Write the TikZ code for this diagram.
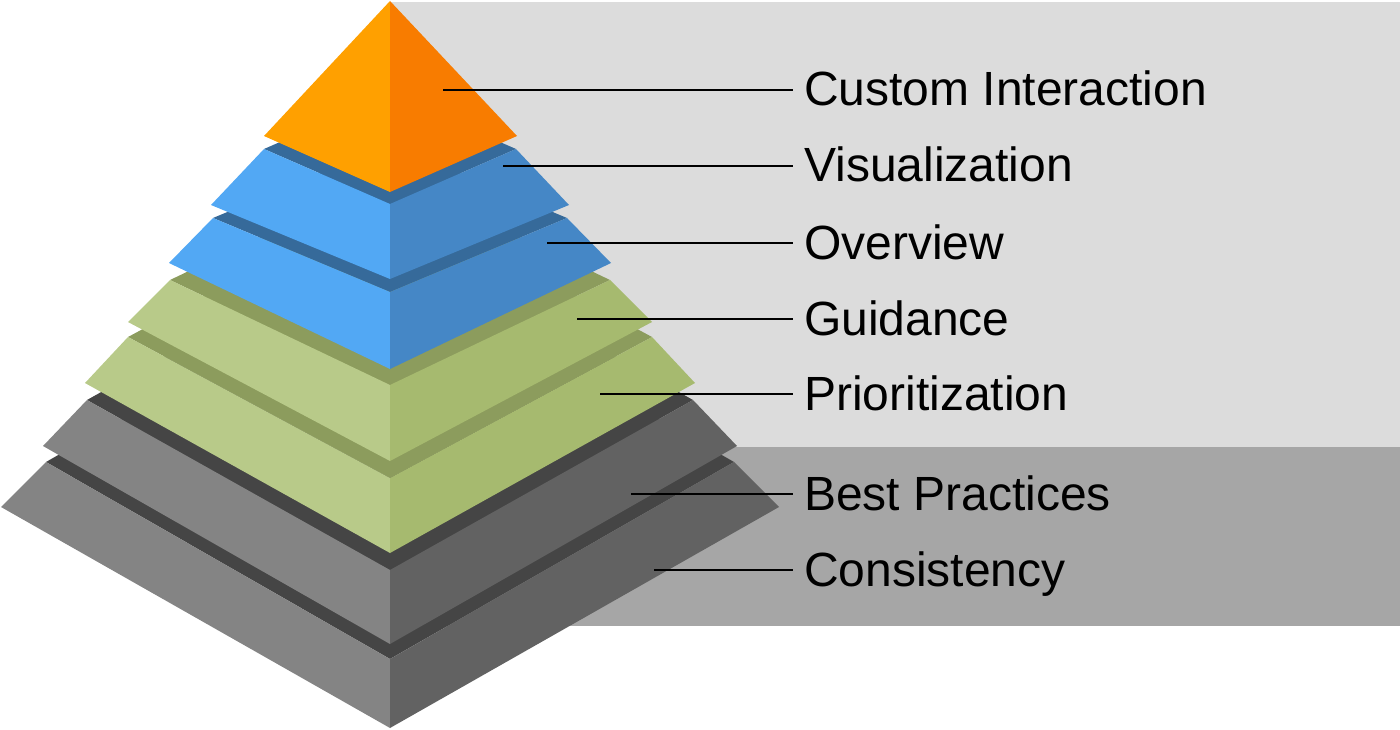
\documentclass[tikz,border=0pt]{standalone}
\usepackage{fontspec}
\setmainfont{Liberation Sans}
\begin{document}
\begin{tikzpicture}[x=1pt,y=-1pt,
  lab/.style={anchor=base west,inner sep=0pt,font=\fontsize{48}{50}\selectfont},
  lead/.style={line width=1.6pt,black}]
\definecolor{bgl}{HTML}{DCDCDC}\definecolor{bgd}{HTML}{A6A6A6}
\definecolor{orL}{HTML}{FFA000}\definecolor{orR}{HTML}{F87C00}
\definecolor{blL}{HTML}{52A8F4}\definecolor{blR}{HTML}{4587C6}\definecolor{blD}{HTML}{366A9A}
\definecolor{grL}{HTML}{B8CA89}\definecolor{grR}{HTML}{A6BA6F}\definecolor{grD}{HTML}{8C9C5D}
\definecolor{gyL}{HTML}{848484}\definecolor{gyR}{HTML}{626262}\definecolor{gyD}{HTML}{454545}
\useasboundingbox (0,0) rectangle (1400,730);
\fill[bgl] (390,2) rectangle (1400,447);
\fill[bgd] (390,447) rectangle (1400,626);
% #1 dark,#2 left,#3 right colour; #4 top-left x,#5 y; #6 outer-left x,#7 y; #8 front top y,#9 front bottom y
\newcommand\tierface[9]{%
  \fill[#1] (#4,#5) -- (390,#8) -- (780-#4,#5) -- (390,#5-#8+#5) -- cycle;
  \fill[#2] (#4,#5) -- (#6,#7) -- (390,#9) -- (390,#8) -- cycle;
  \fill[#3] (780-#4,#5) -- (780-#6,#7) -- (390,#9) -- (390,#8) -- cycle;}
\tierface{gyD}{gyL}{gyR}{46}{462}{1}{507}{659}{728}
\tierface{gyD}{gyL}{gyR}{87}{400}{43}{446}{570}{644}
\tierface{grD}{grL}{grR}{128}{337}{85}{383}{478}{553}
\tierface{grD}{grL}{grR}{170}{280}{128}{322}{385}{461}
\tierface{blD}{blL}{blR}{213}{218}{169}{263}{292}{369}
\tierface{blD}{blL}{blR}{264}{149}{211}{205}{204}{279}
\fill[orL] (390,1) -- (264,136) -- (390,192) -- cycle;
\fill[orR] (390,1) -- (517,136) -- (390,192) -- cycle;
\foreach \n/\t/\y/\x in {ci/Custom Interaction/90/443,vi/Visualization/166/503,ov/Overview/243/547,gu/Guidance/319/577,pr/Prioritization/394/600,bp/Best Practices/494/631,co/Consistency/570/654}{
  \node[lab] (\n) at (804,\y+16) {\t};
  \coordinate (\n s) at (\x,\y);
  \draw[lead] (\n s) -- (793,\y);
}
\end{tikzpicture}
\end{document}
